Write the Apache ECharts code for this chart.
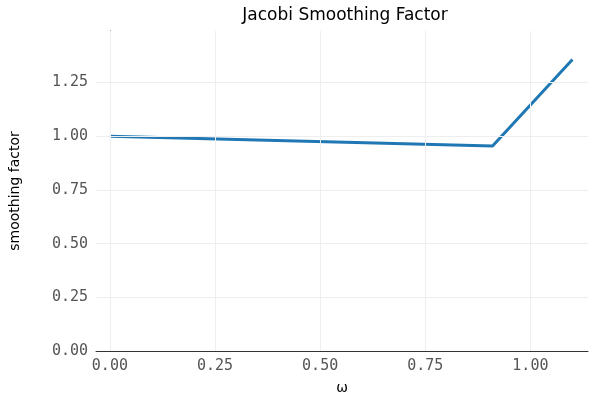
<!DOCTYPE html>
<html><head><meta charset="utf-8">
<script src="https://cdn.jsdelivr.net/npm/echarts@6/dist/echarts.min.js"></script>
<style>body{margin:0}#c{width:600px;height:400px}</style></head>
<body><div id="c"></div>
<script>
const omega = [0.0, 0.91, 1.1];
const factor = [1.0, 0.955, 1.357];
const xTicks = [0, 0.25, 0.5, 0.75, 1.0];
const yTicks = [0, 0.25, 0.5, 0.75, 1.0, 1.25];
const chart = echarts.init(document.getElementById('c'));
const lbl = {fontFamily:'DejaVu Sans Mono', fontSize:15, color:'#555', formatter:v=>v.toFixed(2)};
chart.setOption({
  animation:false,
  title:{text:'Jacobi Smoothing Factor', left:340, top:2, textAlign:'center',
    textStyle:{fontFamily:'DejaVu Sans', fontWeight:'normal', fontSize:17, color:'#000'}},
  grid:{left:93, right:12, top:31, bottom:49},
  xAxis:{type:'value', min:-0.033, max:1.137, name:'ω', nameLocation:'middle', nameGap:30,
    nameTextStyle:{fontFamily:'DejaVu Sans', fontSize:14, color:'#000'},
    axisLine:{onZero:false, lineStyle:{color:'#333'}}, axisTick:{show:false},
    axisLabel:{...lbl, customValues:xTicks}, splitLine:{show:false},
    minorSplitLine:{show:false}},
  yAxis:{type:'value', min:0, max:1.49, name:'smoothing factor', nameLocation:'middle', nameGap:74,
    nameTextStyle:{fontFamily:'DejaVu Sans', fontSize:14, color:'#000'},
    axisLine:{show:true, lineStyle:{color:'#333'}}, axisTick:{show:false},
    axisLabel:{...lbl, customValues:yTicks}, splitLine:{show:false}},
  series:[
    {type:'line', data:omega.map((x,i)=>[x,factor[i]]), showSymbol:false,
     lineStyle:{color:'#1f77b4', width:3}},
    {type:'line', data:[], markLine:{silent:true, symbol:'none', label:{show:false},
      lineStyle:{color:'#eee', type:'solid', width:1},
      data:[...xTicks.map(v=>({xAxis:v})), ...yTicks.filter(v=>v>0).map(v=>({yAxis:v}))]}}
  ]
});
</script></body></html>
